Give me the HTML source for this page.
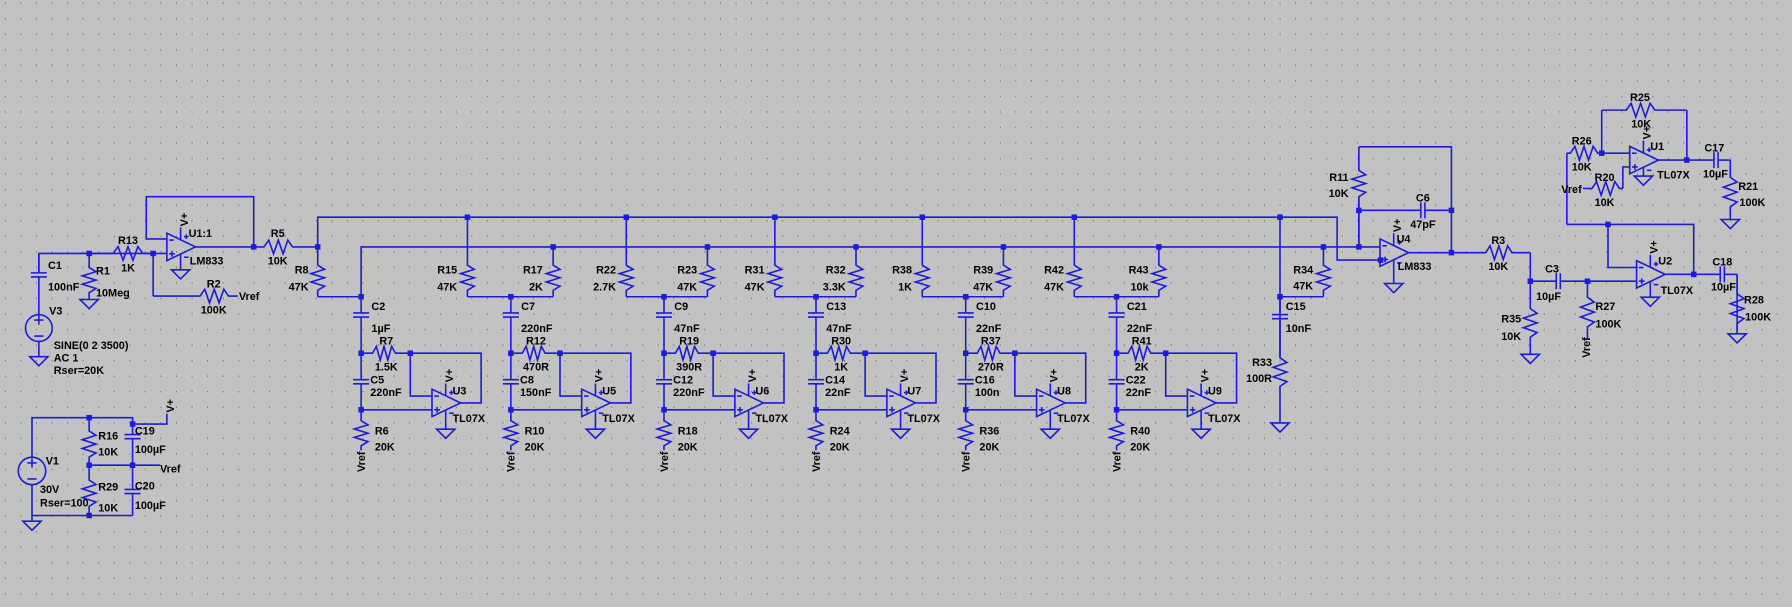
<!DOCTYPE html>
<html><head><meta charset="utf-8"><style>
html,body{margin:0;padding:0;background:#c2c2c2;}
svg{display:block}
text{font-family:"Liberation Sans",Arial,sans-serif;font-weight:bold;font-size:9.5px;fill:#000;}
</style></head><body>
<svg id="s" xmlns="http://www.w3.org/2000/svg" width="1792" height="607" viewBox="0 0 1568 531">
<defs><pattern id="g" x="4.4" y="2.1" width="13.6" height="13.6" patternUnits="userSpaceOnUse">
<rect x="0" y="0" width="1.1" height="1.1" fill="#6a6a6a"/><rect x="1.1" y="0" width="0.8" height="0.8" fill="#e8e8e8"/></pattern></defs>
<rect width="1568" height="531" fill="#c2c2c2"/>
<rect width="1568" height="531" fill="url(#g)"/>
<g id="d" fill="none" stroke="#1c1cd8" stroke-width="1.4"></g>
<g id="t"></g>
</svg>
<script>
var D=document.getElementById('d'),TT=document.getElementById('t'),NS='http://www.w3.org/2000/svg';
function el(p,n,a){var e=document.createElementNS(NS,n);for(var k in a)e.setAttribute(k,a[k]);p.appendChild(e);return e;}
function W(){var p=[];for(var i=0;i<arguments.length;i++)p.push(arguments[i].join(','));el(D,'polyline',{points:p.join(' ')});}
function J(x,y){el(D,'rect',{x:x-2.4,y:y-2.4,width:4.8,height:4.8,fill:'#1c1cd8',stroke:'none'});}
function T(x,y,s,a,r){var o={x:x,y:y,dy:'.35em'};if(a)o['text-anchor']=a;if(r)o.transform='rotate(-90 '+x+' '+y+')';var e=el(TT,'text',o);e.textContent=s;}
var zo=[0,6,-6,6,-6,6,0];
function Rv(x,y1,y2,z1,z2){var p=[[x,y1]];for(var k=0;k<7;k++)p.push([x+zo[k],z1+(z2-z1)*k/6]);p.push([x,y2]);W.apply(null,p);}
function Rh(x1,x2,y,z1,z2){var p=[[x1,y]];for(var k=0;k<7;k++)p.push([z1+(z2-z1)*k/6,y-zo[k]]);p.push([x2,y]);W.apply(null,p);}
function Cv(x,y1,y2,m){W([x,y1],[x,m-1.8]);W([x-7,m-1.8],[x+7,m-1.8]);W([x-7,m+1.8],[x+7,m+1.8]);W([x,m+1.8],[x,y2]);}
function Ch(x1,x2,y,m){W([x1,y],[m-1.8,y]);W([m-1.8,y-7],[m-1.8,y+7]);W([m+1.8,y-7],[m+1.8,y+7]);W([m+1.8,y],[x2,y]);}
function G(x,y){el(D,'polygon',{points:(x-8)+','+y+' '+(x+8)+','+y+' '+x+','+(y+8)});}
function OA(xl,yc,gnd){el(D,'polygon',{points:xl+','+(yc-12)+' '+(xl+25)+','+yc+' '+xl+','+(yc+12)});
 W([xl+2,yc-6],[xl+6,yc-6]);W([xl+2,yc+6],[xl+7,yc+6]);W([xl+4.5,yc+3.5],[xl+4.5,yc+8.5]);
 var px=xl+12;W([px,yc-6],[px,yc-17]);T(px+3,yc-18,'V+','start',1);
 W([px+3,yc-9],[px+7,yc-9]);W([px+5,yc-11],[px+5,yc-7]);W([px+3,yc+9],[px+7,yc+9]);
 if(gnd){W([px,yc+6],[px,yc+gnd]);G(px,yc+gnd);}else{W([px,yc+6],[px,yc+10]);}}
/* ---- input section ---- */
W([34,239],[34,221.7],[134,221.7]);Rh(78,134,221.7,99,125);J(78,221.7);J(134,221.7);
Cv(34,221.7,275,240.5);el(D,'circle',{cx:34,cy:287,r:11.7});W([30,280],[38,280]);W([34,276],[34,284]);W([30,294],[38,294]);
W([34,299],[34,312]);G(34,312);
Rv(78,221.7,262,234,256);G(78,262);
W([134,221.7],[146,221.7]);OA(146,216,20);
W([146,209],[128,209],[128,172],[222,172],[222,216]);W([171,216],[222,216]);J(222,216);
W([134,221.7],[134,259]);Rh(134,208,259,175,200);T(209,259,'Vref');
Rh(222,278,216,231,256);J(278,216);
T(42,232,'C1');T(42,251,'100nF');T(84,237,'R1');T(84,256,'10Meg');T(43,272,'V3');
T(47,302,'SINE(0 2 3500)');T(47,313,'AC 1');T(47,324,'Rser=20K');
T(112,210,'R13','middle');T(112,234,'1K','middle');T(165,204,'U1:1');T(166,228,'LM833');
T(187,248,'R2','middle');T(187,271,'100K','middle');T(243,204,'R5','middle');T(243,228,'10K','middle');
/* ---- buses ---- */
W([278,216],[278,190],[1170,190],[1170,227.5],[1208,227.5]);
W([316,259.6],[316,216],[1208,216]);
Rv(278,216,259.6,232,254);W([278,259.6],[316,259.6]);T(270,236,'R8','end');T(270,251,'47K','end');
var st=[
{c:316,ct:['C2','1µF'],rm:['R7','1.5K'],cb:['C5','220nF'],rb:['R6','20K'],u:'U3'},
{c:447,rt:[409,'R15','47K'],rs:[484,'R17','2K'],ct:['C7','220nF'],rm:['R12','470R'],cb:['C8','150nF'],rb:['R10','20K'],u:'U5'},
{c:581,rt:[548,'R22','2.7K'],rs:[619,'R23','47K'],ct:['C9','47nF'],rm:['R19','390R'],cb:['C12','220nF'],rb:['R18','20K'],u:'U6'},
{c:714,rt:[678,'R31','47K'],rs:[749,'R32','3.3K'],ct:['C13','47nF'],rm:['R30','1K'],cb:['C14','22nF'],rb:['R24','20K'],u:'U7'},
{c:845,rt:[807,'R38','1K'],rs:[878,'R39','47K'],ct:['C10','22nF'],rm:['R37','270R'],cb:['C16','100n'],rb:['R36','20K'],u:'U8'},
{c:977,rt:[940,'R42','47K'],rs:[1014,'R43','10k'],ct:['C21','22nF'],rm:['R41','2K'],cb:['C22','22nF'],rb:['R40','20K'],u:'U9'}];
st.forEach(function(s){var c=s.c;
 if(s.rt){Rv(s.rt[0],190,259.6,232,254);J(s.rt[0],190);T(s.rt[0]-9,236,s.rt[1],'end');T(s.rt[0]-9,251,s.rt[2],'end');
  Rv(s.rs[0],216,259.6,232,254);J(s.rs[0],216);T(s.rs[0]-9,236,s.rs[1],'end');T(s.rs[0]-9,251,s.rs[2],'end');
  W([s.rt[0],259.6],[s.rs[0],259.6]);}
 J(c,259.6);Cv(c,259.6,309,275.6);J(c,309);Rh(c,c+43,309,c+10,c+30);J(c+43,309);
 Cv(c,309,358.5,334);J(c,358.5);W([c,358.5],[c+62,358.5]);
 W([c+43,309],[c+105,309],[c+105,352.5],[c+87,352.5]);W([c+43,309],[c+43,346.5],[c+62,346.5]);
 OA(c+62,352.5,23);
 Rv(c,358.5,394,368,390);T(c,404,'Vref','middle',1);
 T(c+9,268,s.ct[0]);T(c+9,287,s.ct[1]);T(c+22,298,s.rm[0],'middle');T(c+22,321,s.rm[1],'middle');
 T(c+8,332,s.cb[0]);T(c+8,343,s.cb[1]);T(c+12,377,s.rb[0]);T(c+12,391,s.rb[1]);
 T(c+80,342,s.u);T(c+80,366,'TL07X');});
/* stage 7 */
J(1120,190);Cv(1120,190,313,277);J(1120,259.6);Rv(1120,259.6,370,313,338);G(1120,370);
Rv(1158,216,259.6,232,254);J(1158,216);W([1120,259.6],[1158,259.6]);
T(1149,236,'R34','end');T(1149,250,'47K','end');T(1125,268,'C15');T(1125,287,'10nF');
T(1113,317,'R33','end');T(1113,331,'100R','end');
/* U4 */
J(1189,216);J(1208,227.5);OA(1207.5,221,27);
W([1189,216],[1189,172]);Rv(1189,216,128.4,172,149);W([1189,128.4],[1270,128.4],[1270,221]);
J(1189,184);Ch(1189,1270,184,1245);J(1270,184);W([1232,221],[1270,221]);J(1270,221);
T(1180,155,'R11','end');T(1180,169,'10K','end');T(1245,173,'C6','middle');T(1245,196,'47pF','middle');
T(1222,209,'U4');T(1223,233,'LM833');
Rh(1270,1339,221,1300,1323);W([1339,221],[1339,246]);T(1311,210,'R3','middle');T(1311,233,'10K','middle');
J(1339,246);Rv(1339,246,310,270,295);G(1339,310);T(1331,279,'R35','end');T(1331,294,'10K','end');
/* right section */
Ch(1339,1389,246,1363.5);J(1389,246);W([1389,246],[1432,246]);
Rv(1389,246,296,260,286);T(1388,304,'Vref','middle',1);
OA(1432,240,20);W([1457.5,240],[1482,240]);J(1482,240);
W([1432,234],[1407,234],[1407,196.3]);J(1407,196.3);W([1371,196.3],[1482,196.3],[1482,240]);
Ch(1482,1520,240,1507);W([1520,240],[1520,292]);Rv(1520,240,292,257,283);G(1520,292);
W([1371,196.3],[1371,134]);Rh(1371,1426,134,1374,1398);J(1401.5,134);
W([1401.5,134],[1401.5,96.3]);Rh(1401.5,1476,96.3,1423,1448);W([1476,96.3],[1476,140]);
OA(1426,140,14);W([1451,140],[1476,140]);J(1476,140);
W([1426,146],[1420,146],[1420,164.8]);Rh(1385,1420,164.8,1393,1417);T(1384,165.7,'Vref','end');
Ch(1476,1514,140,1501.5);Rv(1514,140,192,155,181);G(1514,192);
T(1435,85,'R25','middle');T(1436,108,'10K','middle');T(1384,123,'R26','middle');T(1384,146,'10K','middle');
T(1444,128,'U1');T(1450,153,'TL07X');T(1404,155,'R20','middle');T(1404,177,'10K','middle');
T(1500,129,'C17','middle');T(1501,152,'10µF','middle');T(1521,163,'R21');T(1522,177,'100K');
T(1451,228,'U2');T(1453,254,'TL07X');T(1507,229,'C18','middle');T(1508,251,'10µF','middle');
T(1526,262,'R28');T(1527,277,'100K');T(1396,268,'R27');T(1396,283,'100K');
T(1358,235,'C3','middle');T(1355,259,'10µF','middle');
/* power supply */
W([28,400],[28,365.4],[116,365.4],[116,371]);J(78,365.4);J(116,371);
W([116,371],[146,371],[146,362]);T(149,361,'V+','start',1);
Cv(116,371,407,382);Rv(78,365.4,407,377,400);J(78,407);J(116,407);
W([78,407],[140,407]);T(140,410,'Vref');
Rv(78,407,451,420,443);Cv(116,407,451,430);J(78,451);
el(D,'circle',{cx:28,cy:412,r:12});W([24,405],[32,405]);W([28,401],[28,409]);W([24,419],[32,419]);
W([28,424],[28,451],[116,451]);W([28,451],[28,456]);G(28,456);
T(86,381,'R16');T(86,395,'10K');T(118,377,'C19');T(118,393,'100µF');
T(86,426,'R29');T(86,444,'10K');T(118,425,'C20');T(118,442,'100µF');
T(40,403,'V1');T(35,428,'30V');T(35,440,'Rser=100');
</script>
</body></html>
